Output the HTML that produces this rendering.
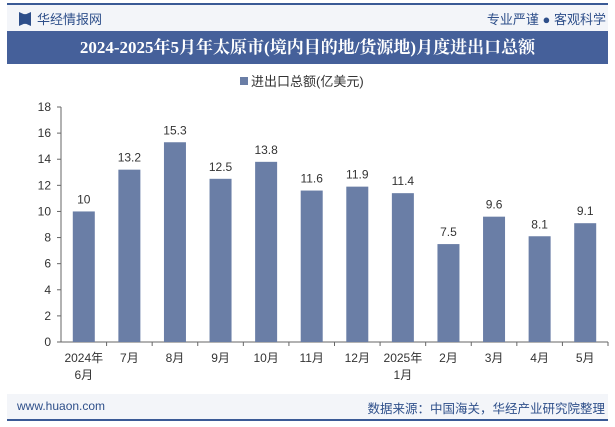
<!DOCTYPE html>
<html><head><meta charset="utf-8"><style>
body{margin:0;width:615px;height:427px;background:#fff;font-family:"Liberation Sans","Noto Sans CJK SC",sans-serif;overflow:hidden;position:relative}
</style></head><body>
<div style="position:absolute;left:7px;top:3px;width:601px;height:2px;background:#3a5a96"></div>
<div style="position:absolute;left:7px;top:5px;width:601px;height:26px;background:#f3f5f9"></div>
<div style="position:absolute;left:19px;top:12px;width:12px;height:14px;background:#2e4f8a;clip-path:polygon(0 0,40% 15%,60% 15%,100% 0,100% 100%,60% 85%,40% 85%,0 100%)"></div>
<div style="position:absolute;left:37px;top:9px;font-size:13px;color:#2e4f8a">华经情报网</div>
<div style="position:absolute;right:9px;top:9px;font-size:13px;color:#2e4f8a">专业严谨 ● 客观科学</div>
<div style="position:absolute;left:7px;top:31px;width:601px;height:33px;background:#45609a;color:#fff;font-family:'Liberation Serif','Noto Serif CJK SC',serif;font-weight:bold;font-size:17px;line-height:33px;text-align:center">2024-2025年5月年太原市(境内目的地/货源地)月度进出口总额</div>
<div style="position:absolute;left:7px;top:394px;width:601px;height:25px;background:#f3f5f9"></div>
<div style="position:absolute;left:17px;top:399px;font-size:12px;color:#2e4f8a">www.huaon.com</div>
<div style="position:absolute;right:10px;top:398px;font-size:12.5px;color:#2e4f8a">数据来源：中国海关，华经产业研究院整理</div>
<div style="position:absolute;left:7px;top:419px;width:601px;height:2px;background:#3a5a96"></div>
<svg id="chart" width="615" height="427" style="position:absolute;left:0;top:0"></svg>
<script>
const categories=["2024年|6月","7月","8月","9月","10月","11月","12月","2025年|1月","2月","3月","4月","5月"];
const values=[10,13.2,15.3,12.5,13.8,11.6,11.9,11.4,7.5,9.6,8.1,9.1];
const ticks=[0,2,4,6,8,10,12,14,16,18];
const svg=document.getElementById('chart');
const NS='http://www.w3.org/2000/svg';
const x0=61,x1=608,y0=342,y1=107,ymax=18;
const bw=(x1-x0)/categories.length;
const yS=v=>y0-(v/ymax)*(y0-y1);
function mk(t,a,txt){const e=document.createElementNS(NS,t);for(const k in a)e.setAttribute(k,a[k]);if(txt!=null)e.textContent=txt;svg.appendChild(e);return e;}
const leg=mk('rect',{x:240,y:77,width:8,height:8,fill:'#6a7ea6'});


const lt=mk('text',{x:251,y:86,'font-size':13,fill:'#333'},'进出口总额(亿美元)');


mk('line',{x1:x0,y1:y1,x2:x0,y2:y0,stroke:'#666'});
mk('line',{x1:x0,y1:y0,x2:x1,y2:y0,stroke:'#666'});
ticks.forEach(t=>{const y=yS(t);
mk('line',{x1:x0-4,y1:y,x2:x0,y2:y,stroke:'#666'});
const e=mk('text',{x:x0-10,y:y+4,'font-size':12,'text-anchor':'end',fill:'#333'},t);

});
categories.forEach((c,i)=>{const cx=x0+bw*(i+0.5);
mk('line',{x1:x0+bw*(i+1),y1:y0,x2:x0+bw*(i+1),y2:y0+4,stroke:'#666'});
const v=values[i];
const r=mk('rect',{x:cx-11,y:yS(v),width:22,height:y0-yS(v),fill:'#6a7ea6'});


const l=mk('text',{x:cx,y:yS(v)-8,'font-size':12,'text-anchor':'middle',fill:'#333'},v);


c.split('|').forEach((s,j)=>{const t=mk('text',{x:cx,y:362+j*17,'font-size':12,'text-anchor':'middle',fill:'#333'},s);

});
});
</script>
</body></html>
